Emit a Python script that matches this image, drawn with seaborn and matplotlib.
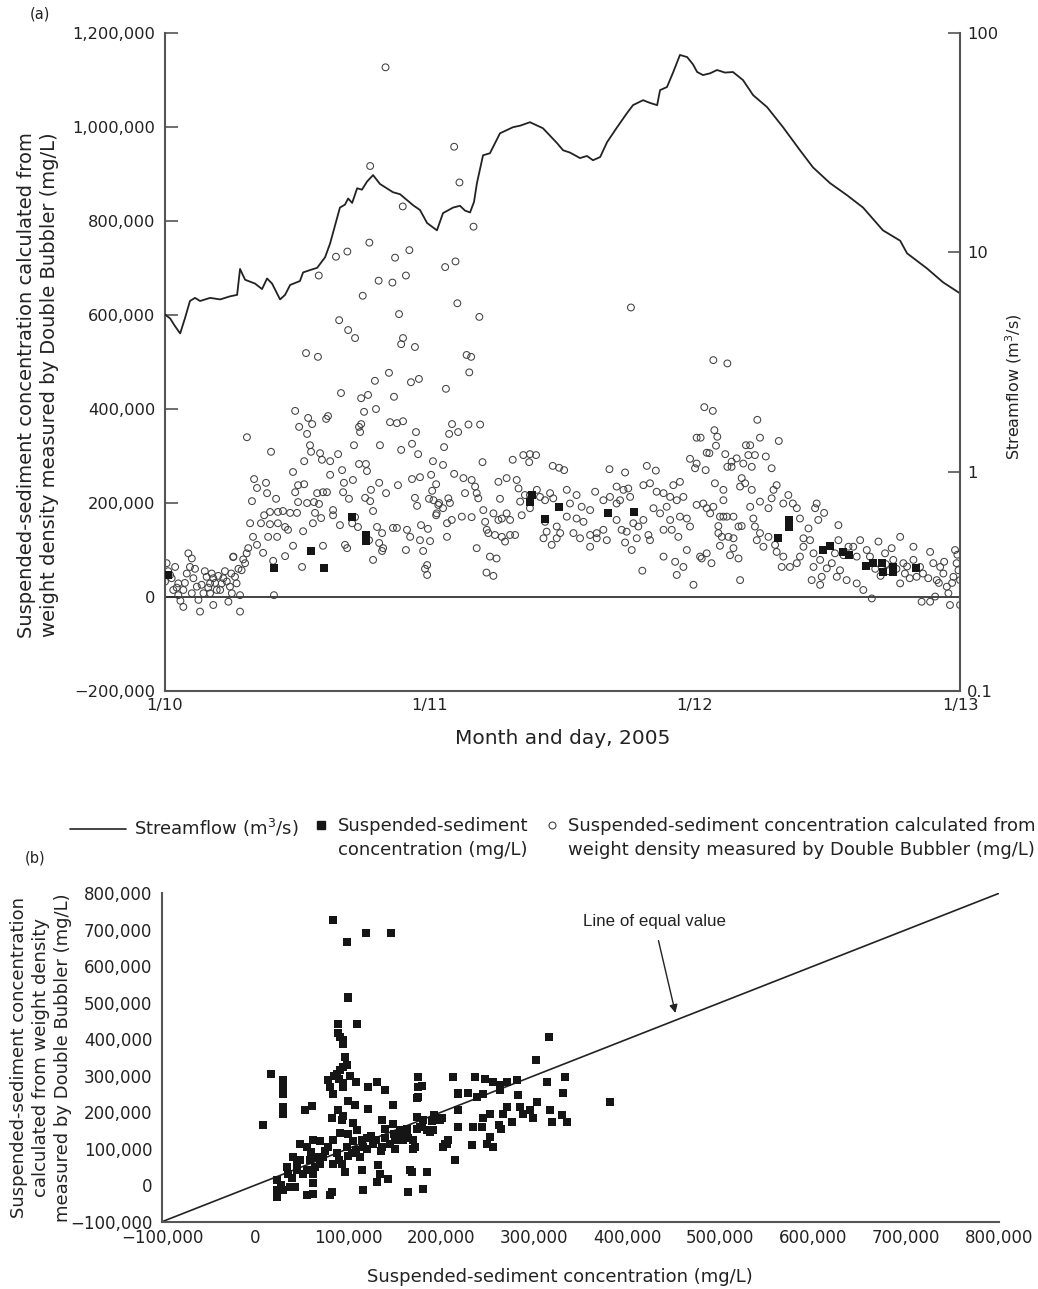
import numpy as np
import pandas as pd
import matplotlib
matplotlib.use("Agg")
import matplotlib.pyplot as plt
import seaborn as sns
from matplotlib.lines import Line2D
from matplotlib.ticker import FixedLocator, FuncFormatter, NullLocator

# ---------------- data (panel a) ----------------
# time in days after 1/10/2005 00:00, streamflow in m3/s
flow_time_days = [0.000, 0.019, 0.038, 0.057, 0.075, 0.094, 0.113, 0.132, 0.170, 0.208,
                  0.245, 0.272, 0.283, 0.302, 0.340, 0.366, 0.385, 0.404, 0.434, 0.453,
                  0.472, 0.509, 0.521, 0.547, 0.574, 0.604, 0.623, 0.660, 0.679, 0.691,
                  0.706, 0.725, 0.743, 0.762, 0.785, 0.811, 0.860, 0.887, 0.936, 0.962,
                  0.989, 1.026, 1.049, 1.087, 1.113, 1.132, 1.151, 1.166, 1.177, 1.200,
                  1.226, 1.264, 1.313, 1.340, 1.377, 1.426, 1.479, 1.502, 1.528, 1.566,
                  1.592, 1.615, 1.642, 1.668, 1.706, 1.743, 1.766, 1.804, 1.830, 1.857,
                  1.868, 1.894, 1.917, 1.943, 1.970, 1.992, 2.008, 2.030, 2.057, 2.083,
                  2.113, 2.143, 2.181, 2.219, 2.272, 2.332, 2.396, 2.445, 2.509, 2.574,
                  2.634, 2.709, 2.774, 2.800, 2.875, 2.936, 3.000]
flow_m3s = [5.2, 5.0, 4.6, 4.27, 5.0, 6.0, 6.2, 6.0, 6.2, 6.1,
            6.3, 6.4, 8.4, 7.5, 7.2, 6.8, 7.6, 7.2, 6.1, 6.4,
            7.1, 7.4, 8.1, 8.3, 8.5, 9.5, 11.0, 16.0, 16.5, 17.6,
            16.8, 19.6, 19.3, 21.0, 22.5, 20.5, 18.8, 18.4, 16.4, 15.6,
            13.6, 12.6, 15.1, 16.0, 16.3, 15.5, 15.2, 17.0, 20.7, 27.7,
            28.3, 34.9, 37.2, 37.8, 39.2, 36.8, 31.5, 29.2, 28.5, 26.9,
            27.5, 26.3, 27.2, 31.8, 37.2, 43.1, 46.9, 49.4, 48.0, 46.9,
            54.9, 56.7, 66.0, 79.4, 77.7, 72.0, 66.4, 64.3, 65.5, 67.8,
            66.0, 66.4, 61.0, 52.1, 45.9, 37.2, 29.2, 24.4, 20.7, 18.2,
            16.0, 12.6, 11.3, 9.9, 8.45, 7.3, 6.5]

# Double Bubbler concentration: (time in days, concentration in thousands of mg/L)
bubbler_points = [
    (0.006, 72), (0.019, 47), (0.000, 33), (0.038, 64), (0.050, 29), (0.069, 15), (0.088, 93),
    (0.101, 82), (0.094, 64), (0.107, 40), (0.120, 22), (0.138, 26), (0.145, 8), (0.126, -6),
    (0.069, -21), (0.132, -31), (0.157, 43), (0.170, 29), (0.182, 40), (0.195, 15), (0.182, -17),
    (0.214, 29), (0.233, 33), (0.245, 22), (0.252, 8), (0.239, -10), (0.264, 43), (0.270, 29),
    (0.283, 4), (0.283, -31), (0.258, 86), (0.289, 57), (0.302, 72), (0.308, 93), (0.314, 104),
    (0.050, 4), (0.031, 15), (0.101, 8), (0.170, 8), (0.208, 15), (0.012, 55), (0.025, 40),
    (0.044, 20), (0.058, -8), (0.075, 30), (0.082, 50), (0.113, 60), (0.150, 55), (0.163, 20),
    (0.176, 50), (0.189, 30), (0.201, 45), (0.220, 40), (0.226, 55), (0.250, 50), (0.277, 60),
    (0.295, 80),
    (0.657, 589), (0.691, 568), (0.717, 551), (0.883, 602), (0.898, 551), (0.891, 538),
    (0.943, 532), (0.532, 519), (0.577, 511), (0.845, 477), (0.792, 460), (0.928, 457),
    (0.958, 464), (1.060, 443), (0.664, 434), (0.740, 423), (0.766, 430), (0.864, 426),
    (0.491, 396), (0.751, 394), (0.796, 400), (0.540, 381), (0.555, 368), (0.506, 362),
    (0.536, 347), (0.608, 379), (0.615, 385), (0.732, 362), (0.740, 368), (0.736, 351),
    (0.849, 372), (0.875, 370), (0.898, 374), (0.947, 351), (1.083, 368), (1.072, 347),
    (1.106, 351), (0.309, 340), (0.547, 323), (0.551, 309), (0.713, 323), (0.811, 323),
    (0.932, 326), (1.053, 319), (0.400, 309), (0.585, 306), (0.592, 292), (0.623, 289),
    (0.653, 304), (0.525, 289), (0.891, 313), (0.955, 304), (1.011, 289), (0.483, 266),
    (0.732, 283), (0.758, 283), (0.762, 268), (0.668, 270), (0.623, 260), (1.049, 281),
    (1.091, 262), (0.336, 251), (0.381, 243), (0.347, 232), (0.385, 221), (0.419, 209),
    (0.328, 204), (0.502, 238), (0.525, 240), (0.491, 223), (0.502, 202), (0.574, 221),
    (0.596, 223), (0.611, 223), (0.675, 243), (0.672, 223), (0.709, 249), (0.694, 209),
    (0.808, 243), (0.777, 228), (0.834, 221), (0.879, 238), (0.932, 251), (0.962, 255),
    (1.004, 260), (1.023, 240), (1.008, 226), (0.755, 211), (0.774, 204), (0.785, 183),
    (0.536, 200), (0.562, 202), (0.581, 198), (0.943, 211), (0.951, 194), (0.996, 209),
    (1.034, 200), (1.049, 189), (1.023, 174), (1.075, 200), (1.064, 157), (0.374, 174),
    (0.396, 181), (0.426, 181), (0.445, 183), (0.472, 179), (0.498, 179), (0.321, 157),
    (0.362, 157), (0.396, 155), (0.426, 157), (0.453, 149), (0.464, 143), (0.566, 179),
    (0.589, 168), (0.558, 157), (0.634, 185), (0.660, 153), (0.634, 174), (0.717, 170),
    (0.728, 149), (0.706, 157), (0.800, 149), (0.819, 136), (0.860, 147), (0.875, 147),
    (0.913, 143), (0.925, 128), (0.966, 153), (0.992, 145), (0.962, 121), (1.000, 119),
    (1.064, 128), (0.332, 128), (0.347, 111), (0.389, 128), (0.423, 128), (0.370, 94),
    (0.483, 109), (0.521, 140), (0.596, 109), (0.679, 111), (0.687, 104), (0.770, 121),
    (0.808, 115), (0.823, 104), (0.819, 98), (0.909, 100), (0.974, 98), (0.785, 79),
    (0.453, 87), (0.257, 85), (0.408, 77), (0.517, 64), (0.989, 68), (0.981, 60),
    (0.989, 47), (0.411, 4),
    (0.832, 1127), (0.774, 917), (1.091, 958), (1.111, 882), (0.897, 831), (0.771, 754),
    (0.688, 735), (0.645, 724), (0.922, 738), (0.868, 722), (1.096, 714), (1.057, 702),
    (0.580, 684), (0.909, 684), (0.806, 673), (0.858, 669), (0.746, 641), (1.103, 625),
    (1.164, 788), (1.186, 596), (1.758, 616),
    (1.138, 515), (1.155, 511), (1.148, 478), (2.069, 504), (2.122, 497), (1.145, 367),
    (1.189, 367), (1.198, 287), (1.312, 292), (1.352, 302), (1.377, 304), (1.400, 302),
    (1.374, 287), (1.463, 279), (1.487, 275), (1.506, 270), (1.677, 272), (1.736, 265),
    (1.818, 279), (1.852, 269), (2.035, 404), (2.067, 396), (2.073, 355), (2.084, 341),
    (2.006, 339), (2.021, 339), (2.079, 322), (2.054, 306), (2.044, 307), (1.981, 294),
    (2.006, 284), (2.000, 274), (2.040, 270), (2.114, 304), (2.122, 277),
    (1.013, 206), (1.031, 196), (1.025, 178), (1.082, 164), (1.120, 171), (1.157, 170),
    (1.126, 253), (1.157, 249), (1.170, 235), (1.176, 221), (1.182, 210), (1.132, 221),
    (1.069, 210), (1.201, 185), (1.208, 160), (1.214, 143), (1.239, 178), (1.258, 164),
    (1.271, 167), (1.289, 178), (1.302, 164), (1.258, 245), (1.289, 253), (1.327, 249),
    (1.334, 231), (1.264, 209), (1.220, 136), (1.245, 132), (1.271, 128), (1.302, 132),
    (1.321, 132), (1.283, 118), (1.176, 104), (1.226, 86), (1.251, 82), (1.213, 52),
    (1.239, 45), (1.340, 203), (1.358, 217), (1.377, 217), (1.403, 228), (1.415, 213),
    (1.434, 206), (1.453, 221), (1.465, 210), (1.377, 189), (1.346, 174), (1.434, 160),
    (1.440, 139), (1.428, 125), (1.459, 111), (1.478, 150), (1.491, 136), (1.478, 125),
    (1.516, 228), (1.553, 217), (1.528, 199), (1.572, 192), (1.604, 185), (1.516, 171),
    (1.553, 167), (1.579, 160), (1.541, 136), (1.566, 125), (1.604, 132), (1.629, 136),
    (1.654, 143), (1.604, 107), (1.629, 125), (1.667, 121), (1.623, 224), (1.654, 206),
    (1.679, 213), (1.704, 235), (1.730, 228), (1.704, 199), (1.717, 206), (1.748, 231),
    (1.755, 213), (1.704, 164), (1.723, 143), (1.742, 139), (1.767, 157), (1.786, 150),
    (1.805, 164), (1.824, 132), (1.830, 121), (1.780, 125), (1.736, 116), (1.761, 100),
    (1.801, 56), (1.805, 238), (1.830, 242), (1.855, 224), (1.881, 221), (1.918, 238),
    (1.943, 245), (1.956, 213), (1.931, 206), (1.906, 213), (1.843, 189), (1.868, 178),
    (1.893, 192), (1.906, 164), (1.943, 171), (1.969, 167), (1.981, 150), (1.881, 143),
    (1.912, 143), (1.937, 128), (1.969, 100), (1.925, 75), (1.881, 86), (1.931, 47),
    (1.956, 64), (1.994, 26), (2.025, 82), (2.062, 72), (2.044, 93), (2.088, 136),
    (2.107, 171), (2.107, 206), (2.006, 196), (2.031, 199), (2.057, 178),
    (2.235, 377), (2.245, 339), (2.316, 332), (2.192, 323), (2.208, 323), (2.226, 302),
    (2.201, 302), (2.267, 299), (2.138, 288), (2.157, 295), (2.182, 284), (2.214, 277),
    (2.289, 274), (2.138, 277), (2.176, 253), (2.189, 242), (2.170, 235), (2.214, 228),
    (2.075, 242), (2.107, 228), (2.044, 189), (2.069, 192), (2.296, 228), (2.308, 238),
    (2.352, 217), (2.333, 199), (2.369, 199), (2.384, 189), (2.289, 210), (2.277, 189),
    (2.245, 203), (2.208, 192), (2.459, 199), (2.453, 189), (2.487, 179), (2.465, 164),
    (2.428, 146), (2.541, 153), (2.396, 167), (2.094, 171), (2.120, 171), (2.145, 171),
    (2.164, 150), (2.176, 151), (2.088, 151), (2.101, 128), (2.126, 128), (2.145, 125),
    (2.094, 109), (2.145, 104), (2.132, 89), (2.164, 82), (2.019, 86), (2.170, 36),
    (2.220, 167), (2.226, 150), (2.258, 107), (2.233, 121), (2.245, 136), (2.277, 128),
    (2.302, 111), (2.308, 96), (2.333, 86), (2.327, 64), (2.358, 64), (2.384, 72),
    (2.396, 86), (2.409, 107), (2.434, 121), (2.409, 125), (2.447, 93), (2.472, 79),
    (2.447, 64), (2.440, 36), (2.478, 43), (2.472, 26), (2.497, 61), (2.516, 72),
    (2.535, 43), (2.547, 57), (2.572, 36), (2.560, 89), (2.528, 93), (2.541, 121),
    (2.579, 107), (2.597, 107), (2.623, 121), (2.610, 86), (2.610, 29), (2.635, 15),
    (2.667, -3), (2.648, 100), (2.692, 118), (2.660, 86), (2.717, 93), (2.742, 104),
    (2.774, 128), (2.748, 79), (2.786, 72), (2.792, 50), (2.774, 29), (2.824, 107),
    (2.824, 79), (2.836, 43), (2.849, 64), (2.855, -10), (2.887, -10), (2.887, 96),
    (2.899, 72), (2.925, 64), (2.912, 36), (2.937, 50), (2.950, 22), (2.975, 43),
    (2.981, 100), (2.987, 72), (2.994, 57), (3.000, 36), (2.962, -17), (3.000, -17),
    (2.956, 8), (2.906, 1), (2.680, 60), (2.700, 45), (2.720, 70), (2.730, 55),
    (2.760, 60), (2.800, 65), (2.810, 40), (2.860, 50), (2.880, 40), (2.920, 30),
    (2.940, 75), (2.970, 30), (2.990, 90),
]

# Measured suspended-sediment concentration: (time in days, thousands of mg/L)
measured_points = [
    (0.010, 47), (0.411, 62), (0.551, 98), (0.600, 62), (0.706, 170), (0.758, 132),
    (0.758, 119), (1.384, 217), (1.377, 203), (1.434, 167), (1.488, 191), (1.673, 179),
    (1.770, 181), (2.314, 125), (2.356, 164), (2.356, 150), (2.482, 101), (2.509, 109),
    (2.557, 96), (2.582, 89), (2.645, 67), (2.673, 72), (2.704, 72), (2.708, 54),
    (2.748, 64), (2.748, 54), (2.834, 61),
]

# ---------------- data (panel b) ----------------
# (measured SSC, Double Bubbler SSC), thousands of mg/L
comparison_points = [
    (83.5, 728), (98.6, 667), (119, 692), (146, 692), (100, 516), (100, 512), (110, 443),
    (89.6, 443), (89.6, 416), (91.4, 406), (95, 397), (95, 388), (96.8, 352), (95, 324),
    (91.4, 315), (87.8, 306), (98.6, 329), (17.2, 306), (29.7, 288), (29.7, 269),
    (29.7, 251), (29.7, 215), (29.7, 196), (78.8, 288), (80.6, 269), (84.2, 251),
    (95, 269), (108.3, 283), (121.2, 269), (131.5, 283), (139.8, 262), (107.5, 219),
    (121.2, 210), (148.7, 219), (53.8, 205), (61, 216), (9, 166), (89.6, 205),
    (82.5, 183), (93.2, 178), (136.2, 178), (139.8, 155), (175.6, 297), (175.6, 269),
    (175, 242), (213, 297), (218, 251), (218, 205), (218, 160), (174, 187), (181, 178),
    (192, 192), (200.7, 183), (188, 146), (174, 155), (163, 141), (170, 123), (172, 105),
    (149, 141), (156, 132), (145, 114), (136, 105), (127, 114), (116.5, 105), (109, 96),
    (104, 87), (113, 78), (91.4, 142), (84.2, 123), (78.8, 105), (87.8, 87), (98.6, 105),
    (93.2, 59), (96.8, 36), (84.2, 59), (48.4, 114), (55.6, 105), (62.7, 123), (41.2, 78),
    (48.4, 68), (59, 68), (66.3, 78), (73.4, 78), (70, 59), (34, 50), (44.8, 41),
    (55.6, 41), (62.7, 32), (62.7, 5), (52, 32), (23.3, 14), (23.3, -14), (23.3, -32),
    (30.4, -14), (37.6, -5), (43, -5), (55.6, -27), (62.7, -23), (80.6, -27), (82.5, -18),
    (114.7, 41), (116.5, -14), (130.8, 9), (143.4, 18), (132.6, 55), (134.4, 32),
    (168.5, 36), (184.6, 36), (164.8, -18), (181, -9), (148.7, 169), (156, 151),
    (163, 155), (195.4, 178), (202.5, 105), (206, 114), (215, 68), (191.7, 151),
    (316, 406), (302, 342), (381.6, 228), (236.6, 297), (247.3, 292), (256, 283),
    (263.5, 274), (270.6, 283), (281.4, 288), (218.7, 253), (229.4, 253), (238.4, 242),
    (245.5, 251), (263.5, 260), (313.7, 283), (333.3, 297), (331.5, 253), (179, 271),
    (174.5, 240), (282.7, 247), (284.5, 215), (288, 196), (295.5, 205), (302.7, 228),
    (317, 205), (329.6, 192), (335, 173), (319, 173), (299.4, 183), (276, 173),
    (270.6, 215), (267, 196), (262, 164), (265, 155), (252.5, 196), (245.5, 183),
    (234.7, 160), (243.7, 160), (252.5, 133), (256, 105), (249, 114), (233, 110),
    (204.3, 114), (208, 123), (199, 178), (177.4, 160), (184.6, 151), (159.5, 123),
    (170, 100), (166.7, 41), (105, 120), (115, 125), (120, 130), (125, 135), (130, 125),
    (140, 130), (150, 125), (160, 140), (100, 140), (110, 150), (120, 100), (135, 95),
    (150, 100), (165, 130), (180, 160), (190, 175), (75, 95), (70, 120), (60, 90),
    (45, 60), (35, 30), (28, 0), (40, 20), (65, 50), (90, 70), (100, 80), (105, 170),
    (95, 190), (100, 230), (90, 290), (95, 280), (102, 300), (85, 300),
]

left_ticks_a = [-200000, 0, 200000, 400000, 600000, 800000, 1000000, 1200000]
right_ticks_a = [0.1, 1, 10, 100]
right_ticklabels_a = ["0.1", "1", "10", "100"]
date_ticks = [0, 1, 2, 3]
date_ticklabels = ["1/10", "1/11", "1/12", "1/13"]
half_day_ticks = [0.5, 1.5, 2.5]
ticks_b = list(range(-100000, 800001, 100000))

# ---------------- frames ----------------
flow_df = pd.DataFrame({"day": flow_time_days, "flow": flow_m3s})
bub_df = pd.DataFrame(bubbler_points, columns=["day", "conc_k"])
bub_df["conc"] = bub_df["conc_k"] * 1000
meas_df = pd.DataFrame(measured_points, columns=["day", "conc_k"])
meas_df["conc"] = meas_df["conc_k"] * 1000
cmp_df = pd.DataFrame(comparison_points, columns=["meas_k", "bub_k"])
cmp_df["meas"] = cmp_df["meas_k"] * 1000
cmp_df["bub"] = cmp_df["bub_k"] * 1000

# ---------------- style ----------------
sns.set_theme(style="white")
plt.rcParams["font.family"] = ["DejaVu Sans"]
plt.rcParams["axes.unicode_minus"] = True

TXT = "#222222"
SPINE = "#555555"


def fmt_thousands(v, pos=None):
    s = f"{int(round(v)):,}"
    return s.replace("-", "\u2212")


fig = plt.figure(figsize=(10.38, 12.89), dpi=100)

# ---------------- panel a ----------------
ax = fig.add_axes([0.159, 0.4639, 0.7659, 0.5105])
ax2 = ax.twinx()
ax2.set_yscale("log")

ax.axhline(0, color="#222222", lw=1.2, zorder=1)
sns.scatterplot(data=bub_df, x="day", y="conc", ax=ax, marker="o", s=24,
                facecolor="none", edgecolor="#404040", linewidth=0.75, legend=False, zorder=2)
sns.scatterplot(data=meas_df, x="day", y="conc", ax=ax, marker="s", s=34,
                color="#151515", linewidth=0, legend=False, zorder=3)
sns.lineplot(data=flow_df, x="day", y="flow", ax=ax2, color="#222222", lw=1.3,
             estimator=None, sort=False, legend=False)

ax.set_xlim(0, 3)
ax.set_ylim(-200000, 1200000)
ax2.set_ylim(0.1, 100)
ax.xaxis.set_major_locator(FixedLocator(date_ticks))
ax.set_xticklabels(date_ticklabels)
ax.xaxis.set_minor_locator(FixedLocator(half_day_ticks))
ax.yaxis.set_major_locator(FixedLocator(left_ticks_a))
ax.yaxis.set_major_formatter(FuncFormatter(fmt_thousands))
ax.yaxis.set_minor_locator(NullLocator())
ax2.yaxis.set_major_locator(FixedLocator(right_ticks_a))
ax2.set_yticklabels(right_ticklabels_a)
ax2.yaxis.set_minor_locator(NullLocator())

for a in (ax, ax2):
    for s in a.spines.values():
        s.set_visible(False)
for side in ("left", "bottom"):
    ax.spines[side].set_visible(True)
    ax.spines[side].set_color(SPINE)
    ax.spines[side].set_linewidth(1.5)
ax2.spines["right"].set_visible(True)
ax2.spines["right"].set_color(SPINE)
ax2.spines["right"].set_linewidth(1.5)

ax.tick_params(axis="both", which="both", direction="in", length=9, width=1.2,
               color=SPINE, labelsize=11.7, labelcolor=TXT)
ax.tick_params(axis="y", pad=7)
ax.tick_params(axis="x", pad=5)
ax2.tick_params(axis="y", which="both", direction="in", length=9, width=1.2,
                color=SPINE, labelsize=11.7, labelcolor=TXT, pad=5)

ax.set_xlabel("Month and day, 2005", fontsize=14.5, color=TXT)
ax.xaxis.set_label_coords(0.5, -0.058)
ax.set_ylabel("Suspended-sediment concentration calculated from\n"
              "weight density measured by Double Bubbler (mg/L)",
              fontsize=14, color=TXT, linespacing=1.3)
ax.yaxis.set_label_coords(-0.133, 0.465)
ax2.set_ylabel("Streamflow (m$^{3}$/s)", fontsize=11.5, color=TXT)
ax2.yaxis.set_label_coords(1.054, 0.462)

fig.text(40 / 1038, 1 - 14 / 1289, "(a)", fontsize=10.5, color=TXT, ha="center", va="center")
fig.text(35 / 1038, 1 - 858 / 1289, "(b)", fontsize=10.5, color=TXT, ha="center", va="center")

# ---------------- legend row ----------------
leg_fs = 13
h_line = Line2D([], [], color="#222222", lw=1.2)
h_sq = Line2D([], [], color="#151515", marker="s", ls="none", markersize=6)
h_ci = Line2D([], [], color="#404040", marker="o", ls="none", markersize=5,
              markerfacecolor="none", markeredgewidth=0.8)
h_blank = Line2D([], [], ls="none")
common = dict(frameon=False, loc="upper left", borderpad=0, borderaxespad=0,
              fontsize=leg_fs, labelcolor=TXT, labelspacing=0.35)
leg_top = 1 - 817 / 1289
fig.legend([h_line], ["Streamflow (m$^{3}$/s)"], bbox_to_anchor=(70 / 1038, leg_top),
           handlelength=3.1, handletextpad=0.45, **common)
fig.legend([h_sq, h_blank], ["Suspended-sediment", "concentration (mg/L)"],
           bbox_to_anchor=(313 / 1038, leg_top),
           handlelength=0.9, handletextpad=0.5, **common)
fig.legend([h_ci, h_blank], ["Suspended-sediment concentration calculated from",
                             "weight density measured by Double Bubbler (mg/L)"],
           bbox_to_anchor=(545 / 1038, leg_top),
           handlelength=0.8, handletextpad=0.45, **common)

# ---------------- panel b ----------------
bx = fig.add_axes([0.1561, 0.0522, 0.8064, 0.2548])
bx.axline((0, 0), slope=1, color="#222222", lw=1.2, zorder=1)
sns.scatterplot(data=cmp_df, x="meas", y="bub", ax=bx, marker="s", s=38,
                color="#151515", linewidth=0, legend=False, zorder=3)
bx.set_xlim(-100000, 800000)
bx.set_ylim(-100000, 800000)
bx.xaxis.set_major_locator(FixedLocator(ticks_b))
bx.yaxis.set_major_locator(FixedLocator(ticks_b))
bx.xaxis.set_major_formatter(FuncFormatter(fmt_thousands))
bx.yaxis.set_major_formatter(FuncFormatter(fmt_thousands))
for side, s in bx.spines.items():
    s.set_visible(side in ("left", "bottom"))
    s.set_color(SPINE)
    s.set_linewidth(1.5)
bx.tick_params(axis="both", direction="in", length=7, width=1.2, color=SPINE,
               labelsize=12, labelcolor=TXT)
bx.tick_params(axis="y", pad=7)
bx.tick_params(axis="x", pad=5)
bx.set_xlabel("Suspended-sediment concentration (mg/L)", fontsize=13, color=TXT)
bx.xaxis.set_label_coords(0.4755, -0.14)
bx.set_ylabel("Suspended-sediment concentration\ncalculated from weight density\n"
              "measured by Double Bubbler (mg/L)", fontsize=13, color=TXT, linespacing=1.3)
bx.yaxis.set_label_coords(-0.1075, 0.5)

bx.annotate("Line of equal value", xy=(452000, 472000), xytext=(429000, 722000),
            ha="center", va="center", fontsize=12.2, color=TXT,
            family=["Liberation Sans", "DejaVu Sans"],
            arrowprops=dict(arrowstyle="-|>", color="#222222", lw=1.0,
                            mutation_scale=12, shrinkA=6, shrinkB=0))

fig.savefig("out.png", dpi=100, facecolor="white")
